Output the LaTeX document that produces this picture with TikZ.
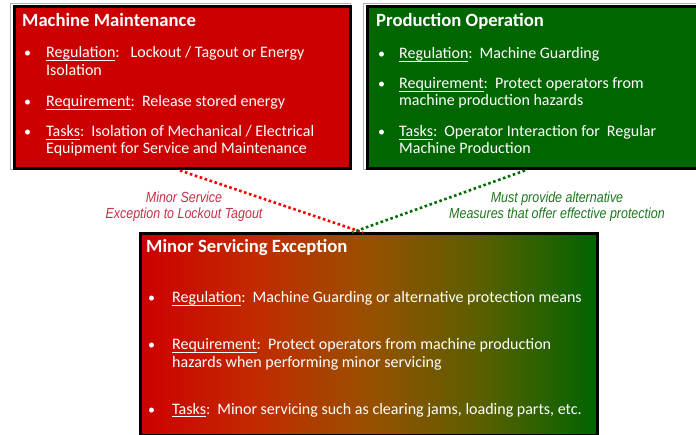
\documentclass[tikz,border=0pt]{standalone}
\usepackage{fontspec}
\setmainfont{Carlito}
\newfontfamily\labelfont[FakeStretch=0.85]{Liberation Sans}
\definecolor{boxred}{RGB}{204,0,0}
\definecolor{boxgreen}{RGB}{0,102,0}
\definecolor{gq1}{RGB}{194,42,0}
\definecolor{gq2}{RGB}{152,80,0}
\definecolor{gq3}{RGB}{88,95,0}
\definecolor{gradgreen}{RGB}{0,100,0}
\definecolor{labred}{RGB}{196,48,72}
\definecolor{labgreen}{RGB}{30,118,30}
\definecolor{dotred}{RGB}{255,0,0}
\definecolor{dotgreen}{RGB}{0,110,0}
\pgfdeclarehorizontalshading{msegrad}{100bp}{color(0bp)=(boxred); color(25bp)=(boxred); color(37.5bp)=(gq1); color(50bp)=(gq2); color(62.5bp)=(gq3); color(75bp)=(gradgreen); color(100bp)=(gradgreen)}
\newcommand\myul[1]{\setbox0=\hbox{#1}\rlap{\rule[-2.6pt]{\wd0}{1pt}}\box0}
\tikzset{
  panel/.style={draw=black, line width=3pt, inner sep=0pt, anchor=north west},
  shadowline/.style={draw=black!30, line width=0.8pt},
  ttl/.style={anchor=base west, inner sep=0pt, text=white, font=\bfseries\fontsize{18.67}{20}\selectfont},
  txt/.style={anchor=base west, inner sep=0pt, text=white, font=\fontsize{16}{18}\selectfont},
  bul/.style={anchor=base west, inner sep=0pt, text=white, font=\fontsize{14}{16}\selectfont},
  lab/.style={anchor=base, inner sep=0pt, font=\labelfont\itshape\fontsize{14.67}{16}\selectfont},
  reddots/.style={draw=dotred, line width=2.6pt, dash pattern=on 2.6pt off 2.6pt},
  greendots/.style={draw=dotgreen, line width=2.6pt, dash pattern=on 2.6pt off 2.6pt}
}
\begin{document}
\begin{tikzpicture}[x=1pt, y=-1pt]
\useasboundingbox (0,0) rectangle (696,435);
\clip (0,0) rectangle (696,435);
% outer light outlines
\draw[shadowline] (10.5,3.5) rectangle (350.5,169.5);
\draw[shadowline] (363.5,3.5) rectangle (702,169.5);
% panels
\node[panel, fill=boxred, minimum width=336pt, minimum height=162pt] (mm) at (12.5,5.5) {};
\node[panel, fill=boxgreen, minimum width=340pt, minimum height=162pt] (po) at (365.5,5.5) {};
\node[panel, shading=msegrad, shading angle=0, minimum width=457pt, minimum height=201pt] (mse) at (138.5,232.5) {};
% connectors
\draw[reddots] ([xshift=167.5pt]mm.south west) -- ([xshift=224.5pt]mse.north west);
\draw[greendots] ([xshift=159.5pt]po.south west) -- ([xshift=213.5pt]mse.north west);
% connector labels
\node[lab, text=labred] (l1a) at (184,203) {Minor Service};
\node[lab, text=labred] (l1b) at (184,219) {Exception to Lockout Tagout};
\node[lab, text=labgreen] (l2a) at (557,203) {Must provide alternative};
\node[lab, text=labgreen] (l2b) at (557,219) {Measures that offer effective protection};
% box 1 text
\node[ttl] (t1) at (22,27) {Machine Maintenance};
\node[bul] (b11) at (24,58) {•};
\node[txt] (x11) at (46,58) {\myul{Regulation}:\hspace{11pt}Lockout / Tagout or Energy};
\node[txt] (x12) at (46,76) {Isolation};
\node[bul] (b12) at (24,107) {•};
\node[txt] (x13) at (46,107) {\myul{Requirement}:\hspace{7pt}Release stored energy};
\node[bul] (b13) at (24,137) {•};
\node[txt] (x14) at (46,137) {\myul{Tasks}:\hspace{7pt}Isolation of Mechanical / Electrical};
\node[txt] (x15) at (46,154) {Equipment for Service and Maintenance};
% box 2 text
\node[ttl] (t2) at (376,27) {Production Operation};
\node[bul] (b21) at (378,59) {•};
\node[txt] (x21) at (399,59) {\myul{Regulation}:\hspace{7pt}Machine Guarding};
\node[bul] (b22) at (378,89) {•};
\node[txt] (x22) at (399,89) {\myul{Requirement}:\hspace{7pt}Protect operators from};
\node[txt] (x23) at (399,106) {machine production hazards};
\node[bul] (b23) at (378,137) {•};
\node[txt] (x24) at (399,137) {\myul{Tasks}:\hspace{7pt}Operator Interaction for\hspace{7pt}Regular};
\node[txt] (x25) at (399,154) {Machine Production};
% box 3 text
\node[ttl] (t3) at (146,253) {Minor Servicing Exception};
\node[bul] (b31) at (148,303) {•};
\node[txt] (x31) at (172,303) {\myul{Regulation}:\hspace{7pt}Machine Guarding or alternative protection means};
\node[bul] (b32) at (148,350) {•};
\node[txt] (x32) at (172,350) {\myul{Requirement}:\hspace{7pt}Protect operators from machine production};
\node[txt] (x33) at (172,368) {hazards when performing minor servicing};
\node[bul] (b33) at (148,414) {•};
\node[txt] (x34) at (172,414) {\myul{Tasks}:\hspace{7pt}Minor servicing such as clearing jams, loading parts, etc.};
\end{tikzpicture}
\end{document}
